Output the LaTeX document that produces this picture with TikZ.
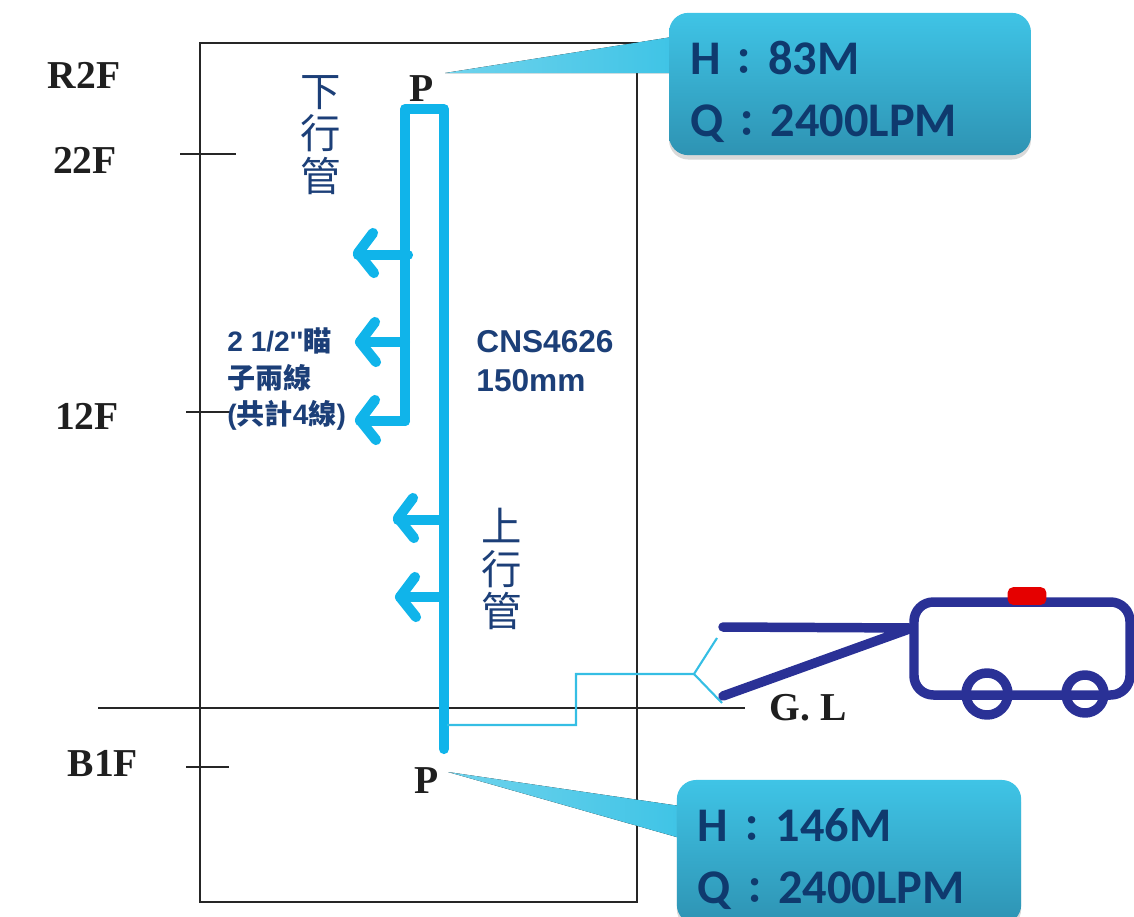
\documentclass[tikz,border=0pt]{standalone}
\usepackage{fontspec}
\setmainfont{Liberation Serif}
\newfontfamily\cjkfont{Noto Sans CJK TC}
\newfontfamily\boxfont{Carlito}
\newfontfamily\labelfont{Liberation Sans}
\usetikzlibrary{shadows}
\definecolor{pipeblue}{HTML}{10B4EA}
\definecolor{textblue}{HTML}{1C3F78}
\definecolor{boxtext}{HTML}{0F3A6E}
\definecolor{truckblue}{HTML}{2A3196}
\definecolor{thinblue}{HTML}{35BEE4}
\definecolor{boxtop}{HTML}{3FC4E6}
\definecolor{boxbottom}{HTML}{2E93B3}
\tikzset{
  floor/.style={font=\fontsize{22.5}{22.5}\selectfont\bfseries,text=black!88},
  level/.style={black!85,line width=1.1pt},
  branch/.style={pipeblue,line width=5.8pt,line cap=round,line join=round},
  vtext/.style={text=textblue,align=center,font=\cjkfont\fontsize{23}{25}\selectfont},
  note/.style={text=textblue,align=left,font=\labelfont\bfseries\fontsize{18}{22}\selectfont},
  callout/.style={rounded corners=11pt,top color=boxtop,bottom color=boxbottom,
    drop shadow={opacity=.3,shadow xshift=0pt,shadow yshift=-2.5pt},
    inner xsep=12pt,inner ysep=0pt,text=boxtext,align=left,
    font=\boxfont\bfseries\fontsize{27.5}{35.5}\selectfont},
  tail/.style={left color=boxtop!75!white,right color=boxtop},
  truck/.style={truckblue,line width=5.4pt,line cap=round,line join=round}
}
\newcommand{\tap}[2]{% arrow head on a branch
  \draw[branch] (#1,#2) ++(15,-20) -- ++(-15,20) -- ++(16,20);
}
\newcommand{\colonmark}{\makebox[27pt]{\cjkfont\fontsize{20}{20}\selectfont：}}
\begin{document}
\begin{tikzpicture}[x=0.02cm,y=-0.02cm]
\useasboundingbox (0,0) rectangle (1134,917);
% building
\draw[level] (200,43) rectangle (637,902);
\draw[level] (180,154) -- (236,154);
\draw[level] (186,412) -- (232,412);
\draw[level] (186,767) -- (229,767);
\draw[level] (98,708) -- (745,708);
\node[floor] (r2f) at (84,75) {R2F};
\node[floor] (f22) at (85,160) {22F};
\node[floor] (f12) at (87,416) {12F};
\node[floor] (b1f) at (103,763) {B1F};
\node[floor] (gl) at (808,708) {G. L};
\node[floor] (ptop) at (422,89) {P};
\node[floor] (pbot) at (427,781) {P};
% pipes
\coordinate (riserbot) at (444,749);
\coordinate (risertop) at (444,109);
\coordinate (downtop) at (405,109);
\coordinate (downbot) at (405,421);
\draw[branch] (riserbot) -- (risertop) -- (downtop) -- (downbot);
\draw[branch] (downbot) -- (360,421);
\draw[branch] (408,255) -- (358,255);
\draw[branch] (405,342) -- (360,342);
\draw[branch] (444,520) -- (398,520);
\draw[branch] (444,597) -- (400,597);
\tap{358}{253}
\tap{360}{342}
\tap{360}{420}
\tap{398}{518}
\tap{400}{597}
% feed line
\coordinate (feed) at (447,725);
\coordinate (split) at (694,674);
\coordinate (inlet1) at (717,638);
\coordinate (inlet2) at (722,703);
\draw[thinblue,line width=1.2pt] (feed) -- (576,725) -- (576,674) -- (split) -- (inlet1);
\draw[thinblue,line width=1.2pt] (split) -- (inlet2);
% truck
\coordinate (hitch) at (912,628);
\draw[truck] (723,627) -- (hitch) -- (723,696);
\draw[truck,rounded corners=11pt] (914,602) rectangle (1130,695);
\draw[truck] (987,694) circle[radius=21];
\draw[truck] (1085,694) circle[radius=19];
\node[fill=red!90!black,rounded corners=3pt,minimum width=22pt,minimum height=10pt,inner sep=0pt] (lamp) at (1027,596) {};
% labels
\node[vtext] (down) at (321,135) {下\\[-1pt]行\\[-1pt]管};
\node[vtext] (up) at (502,569) {上\\[-1pt]行\\[-1pt]管};
\node[note] (cns) at (545,361) {CNS4626\\150mm};
\node[text=textblue,align=left,anchor=north west,inner sep=0pt,font=\labelfont\bfseries\fontsize{16}{21}\selectfont] (hose) at (227,327) {2 1/2''{\cjkfont 瞄}\\{\cjkfont 子兩線}\\({\cjkfont 共計}4{\cjkfont 線})};
% callouts
\coordinate (ptip1) at (445,73);
\coordinate (ptip2) at (448,772);
\fill[tail] (ptip1) -- (672,37) -- (672,73) -- cycle;
\fill[tail] (ptip2) -- (680,806) -- (680,838) -- cycle;
\node[callout,text width=182pt,minimum height=81pt] (box1) at (850,84)
  {\rule{0pt}{28pt}H\colonmark 83M\\Q\colonmark 2400LPM};
\node[callout,text width=172pt,minimum height=82pt] (box2) at (849,852)
  {\rule{0pt}{27pt}H\colonmark 146M\\Q\colonmark 2400LPM};
\end{tikzpicture}
\end{document}
